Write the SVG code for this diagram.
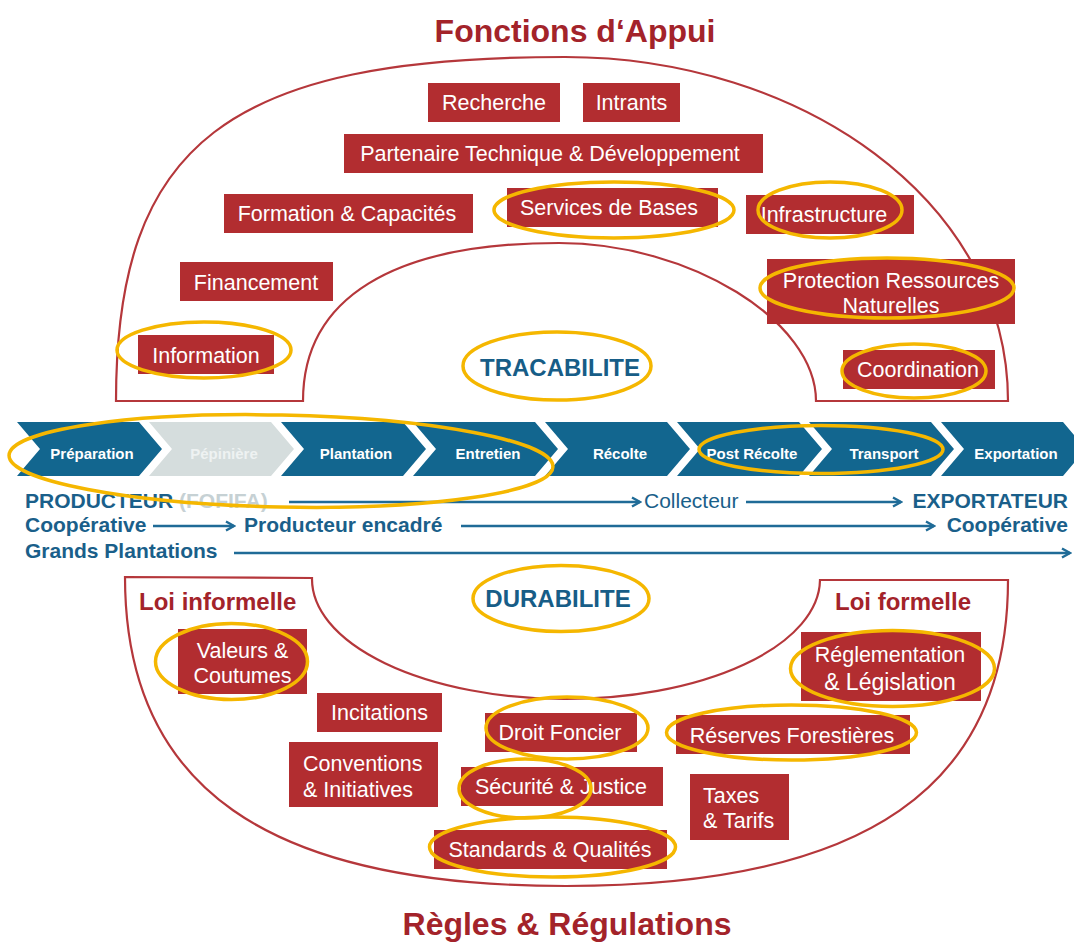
<svg xmlns="http://www.w3.org/2000/svg" width="1074" height="943" viewBox="0 0 1074 943">
<defs>
<style>
.bg{fill:#ffffff}
.arc{fill:none;stroke:#b5373b;stroke-width:2.2}
.box{fill:#b22d30}
.bt{font-family:"Liberation Sans",Arial,sans-serif;font-size:21.5px;fill:#ffffff}
.gold{fill:none;stroke:#f5b700;stroke-width:3.5}
.title{font-family:"Liberation Sans",Arial,sans-serif;font-size:32px;font-weight:bold;fill:#a3232a;text-anchor:middle}
.loi{font-family:"Liberation Sans",Arial,sans-serif;font-size:24px;font-weight:bold;fill:#a3232a}
.key{font-family:"Liberation Sans",Arial,sans-serif;font-size:24px;font-weight:bold;fill:#175d87;text-anchor:middle}
.chev{fill:#12668f}
.chevg{fill:#d5dddd}
.ct{font-family:"Liberation Sans",Arial,sans-serif;font-size:15px;font-weight:bold;fill:#ffffff;text-anchor:middle}
.actor{font-family:"Liberation Sans",Arial,sans-serif;font-size:21px;font-weight:bold;fill:#1a5f8a}
.actorr{font-family:"Liberation Sans",Arial,sans-serif;font-size:21px;fill:#1a5f8a}
.flow{fill:none;stroke:#1f6b97;stroke-width:2.6;marker-end:url(#ah)}
</style>
<marker id="ah" viewBox="0 0 12 12" refX="10" refY="6" markerWidth="12" markerHeight="12" markerUnits="userSpaceOnUse" orient="auto">
<path d="M2,1.5 L10,6 L2,10.5" fill="none" stroke="#1f6b97" stroke-width="2.4"/>
</marker>
</defs>
<rect class="bg" x="0" y="0" width="1074" height="943"/>

<text class="title" x="575" y="42">Fonctions d&#8216;Appui</text>
<text class="title" x="567" y="935">Règles &amp; Régulations</text>

<g id="arch-top">
<path class="arc" d="M116,401 C116,143 228,57 565,57 C800,57 1008,200 1008,401 L816,401 C816,321 690,243 559,243 C393,243 303,298 303,401 Z"/>
</g>
<g id="arch-bottom">
<path class="arc" d="M125,577 L312,578 A254,120 0 0 0 820,580 L1008,580 C1008,787 866,886 566,886 C266,886 125,787 125,577 Z"/>
</g>

<g id="recherche"><rect class="box" x="428" y="83" width="132" height="39"/><text class="bt" x="494" y="110" text-anchor="middle">Recherche</text></g>
<g id="intrants"><rect class="box" x="583" y="83" width="97" height="39"/><text class="bt" x="631.5" y="110" text-anchor="middle">Intrants</text></g>
<g id="partenaire"><rect class="box" x="344" y="134" width="419" height="39"/><text class="bt" x="550" y="161" text-anchor="middle">Partenaire Technique &amp; Développement</text></g>
<g id="formation"><rect class="box" x="224" y="194" width="249" height="39"/><text class="bt" x="347" y="221" text-anchor="middle">Formation &amp; Capacités</text></g>
<g id="services"><rect class="box" x="507" y="188" width="211" height="39"/><text class="bt" x="609" y="215" text-anchor="middle">Services de Bases</text><ellipse class="gold" cx="614" cy="210" rx="120" ry="28"/></g>
<g id="infrastructure"><rect class="box" x="746" y="195" width="168" height="39"/><text class="bt" x="824" y="222" text-anchor="middle">Infrastructure</text><ellipse class="gold" cx="830" cy="210" rx="72" ry="28"/></g>
<g id="financement"><rect class="box" x="180" y="262" width="153" height="39"/><text class="bt" x="256" y="290" text-anchor="middle">Financement</text></g>
<g id="protection"><rect class="box" x="767" y="259" width="248" height="65"/><text class="bt" x="891" y="288" text-anchor="middle">Protection Ressources</text><text class="bt" x="891" y="313" text-anchor="middle">Naturelles</text><ellipse class="gold" cx="887" cy="288" rx="127" ry="30"/></g>
<g id="information"><rect class="box" x="138" y="335" width="136" height="39"/><text class="bt" x="206" y="363" text-anchor="middle">Information</text><ellipse class="gold" cx="204" cy="350" rx="87" ry="28"/></g>
<g id="coordination"><rect class="box" x="843" y="350" width="152" height="39"/><text class="bt" x="918" y="377" text-anchor="middle">Coordination</text><ellipse class="gold" cx="914" cy="371" rx="72" ry="27"/></g>
<g id="tracabilite"><text class="key" x="560" y="376">TRACABILITE</text><ellipse class="gold" cx="557" cy="366" rx="94" ry="34"/></g>

<g id="chain">
<g id="c-preparation"><path class="chev" d="M17,422 H139 L162,449 L139,476 H17 L40,449 Z"/><text class="ct" x="92" y="459">Préparation</text></g>
<g id="c-pepiniere"><path class="chevg" d="M149,422 H271 L294,449 L271,476 H149 L172,449 Z"/><text class="ct" x="224" y="459" style="fill:#eef2f2">Pépinière</text></g>
<g id="c-plantation"><path class="chev" d="M281,422 H403 L426,449 L403,476 H281 L304,449 Z"/><text class="ct" x="356" y="459">Plantation</text></g>
<g id="c-entretien"><path class="chev" d="M413,422 H535 L558,449 L535,476 H413 L436,449 Z"/><text class="ct" x="488" y="459">Entretien</text></g>
<g id="c-recolte"><path class="chev" d="M545,422 H667 L690,449 L667,476 H545 L568,449 Z"/><text class="ct" x="620" y="459">Récolte</text></g>
<g id="c-postrecolte"><path class="chev" d="M677,422 H799 L822,449 L799,476 H677 L700,449 Z"/><text class="ct" x="752" y="459">Post Récolte</text></g>
<g id="c-transport"><path class="chev" d="M809,422 H931 L954,449 L931,476 H809 L832,449 Z"/><text class="ct" x="884" y="459">Transport</text></g>
<g id="c-exportation"><path class="chev" d="M941,422 H1063 L1086,449 L1063,476 H941 L964,449 Z"/><text class="ct" x="1016" y="459">Exportation</text></g>
</g>

<g id="actors">
<text class="actor" x="25" y="508">PRODUCTEUR <tspan style="fill:#c6d1d4">(FOFIFA)</tspan></text>
<text class="actorr" x="644" y="508">Collecteur</text>
<text class="actor" x="1068" y="508" text-anchor="end">EXPORTATEUR</text>
<text class="actor" x="25" y="532">Coopérative</text>
<text class="actor" x="244" y="532">Producteur encadré</text>
<text class="actor" x="1068" y="532" text-anchor="end">Coopérative</text>
<text class="actor" x="25" y="558">Grands Plantations</text>
</g>

<g id="connectors">
<line class="flow" x1="289" y1="502" x2="640" y2="502"/>
<line class="flow" x1="746" y1="502" x2="901" y2="502"/>
<line class="flow" x1="153" y1="526" x2="234" y2="526"/>
<line class="flow" x1="461" y1="526" x2="934" y2="526"/>
<line class="flow" x1="234" y1="553" x2="1070" y2="553"/>
</g>

<g id="highlights">
<ellipse class="gold" cx="281" cy="461" rx="272" ry="46" transform="rotate(1.2 281 461)"/>
<ellipse class="gold" cx="821" cy="449.5" rx="122" ry="24"/>
</g>

<text class="loi" x="139" y="610">Loi informelle</text>
<text class="loi" x="835" y="610">Loi formelle</text>
<g id="durabilite"><text class="key" x="558" y="607">DURABILITE</text><ellipse class="gold" cx="561" cy="598.5" rx="88" ry="33"/></g>

<g id="valeurs"><rect class="box" x="178" y="629" width="129" height="65"/><text class="bt" x="242.5" y="658" text-anchor="middle">Valeurs &amp;</text><text class="bt" x="242.5" y="683" text-anchor="middle">Coutumes</text><ellipse class="gold" cx="231.5" cy="661.5" rx="76" ry="38"/></g>
<g id="incitations"><rect class="box" x="317" y="693" width="125" height="39"/><text class="bt" x="379.5" y="720" text-anchor="middle">Incitations</text></g>
<g id="conventions"><rect class="box" x="289" y="742" width="149" height="65"/><text class="bt" x="303" y="771">Conventions</text><text class="bt" x="303" y="797">&amp; Initiatives</text></g>
<g id="droit"><rect class="box" x="485" y="713" width="152" height="39"/><text class="bt" x="560" y="740" text-anchor="middle">Droit Foncier</text><ellipse class="gold" cx="567" cy="728" rx="81" ry="31"/></g>
<g id="securite"><rect class="box" x="461" y="767" width="202" height="39"/><text class="bt" x="561" y="794" text-anchor="middle">Sécurité &amp; Justice</text><ellipse class="gold" cx="525" cy="788.5" rx="66" ry="29.5"/></g>
<g id="standards"><rect class="box" x="434" y="830" width="233" height="39"/><text class="bt" x="550" y="857" text-anchor="middle">Standards &amp; Qualités</text><ellipse class="gold" cx="552.5" cy="847" rx="123" ry="30"/></g>
<g id="reserves"><rect class="box" x="676" y="715" width="234" height="39"/><text class="bt" x="792" y="743" text-anchor="middle">Réserves Forestières</text><ellipse class="gold" cx="791.5" cy="732.5" rx="125" ry="27.5"/></g>
<g id="taxes"><rect class="box" x="690" y="774" width="99" height="66"/><text class="bt" x="703" y="803">Taxes</text><text class="bt" x="703" y="828">&amp; Tarifs</text></g>
<g id="reglementation"><rect class="box" x="801" y="632" width="180" height="69"/><text class="bt" x="890" y="662" text-anchor="middle">Réglementation</text><text class="bt" x="890" y="690" text-anchor="middle" style="font-size:23px">&amp; Législation</text><ellipse class="gold" cx="892.5" cy="668.5" rx="102" ry="38"/></g>
</svg>
